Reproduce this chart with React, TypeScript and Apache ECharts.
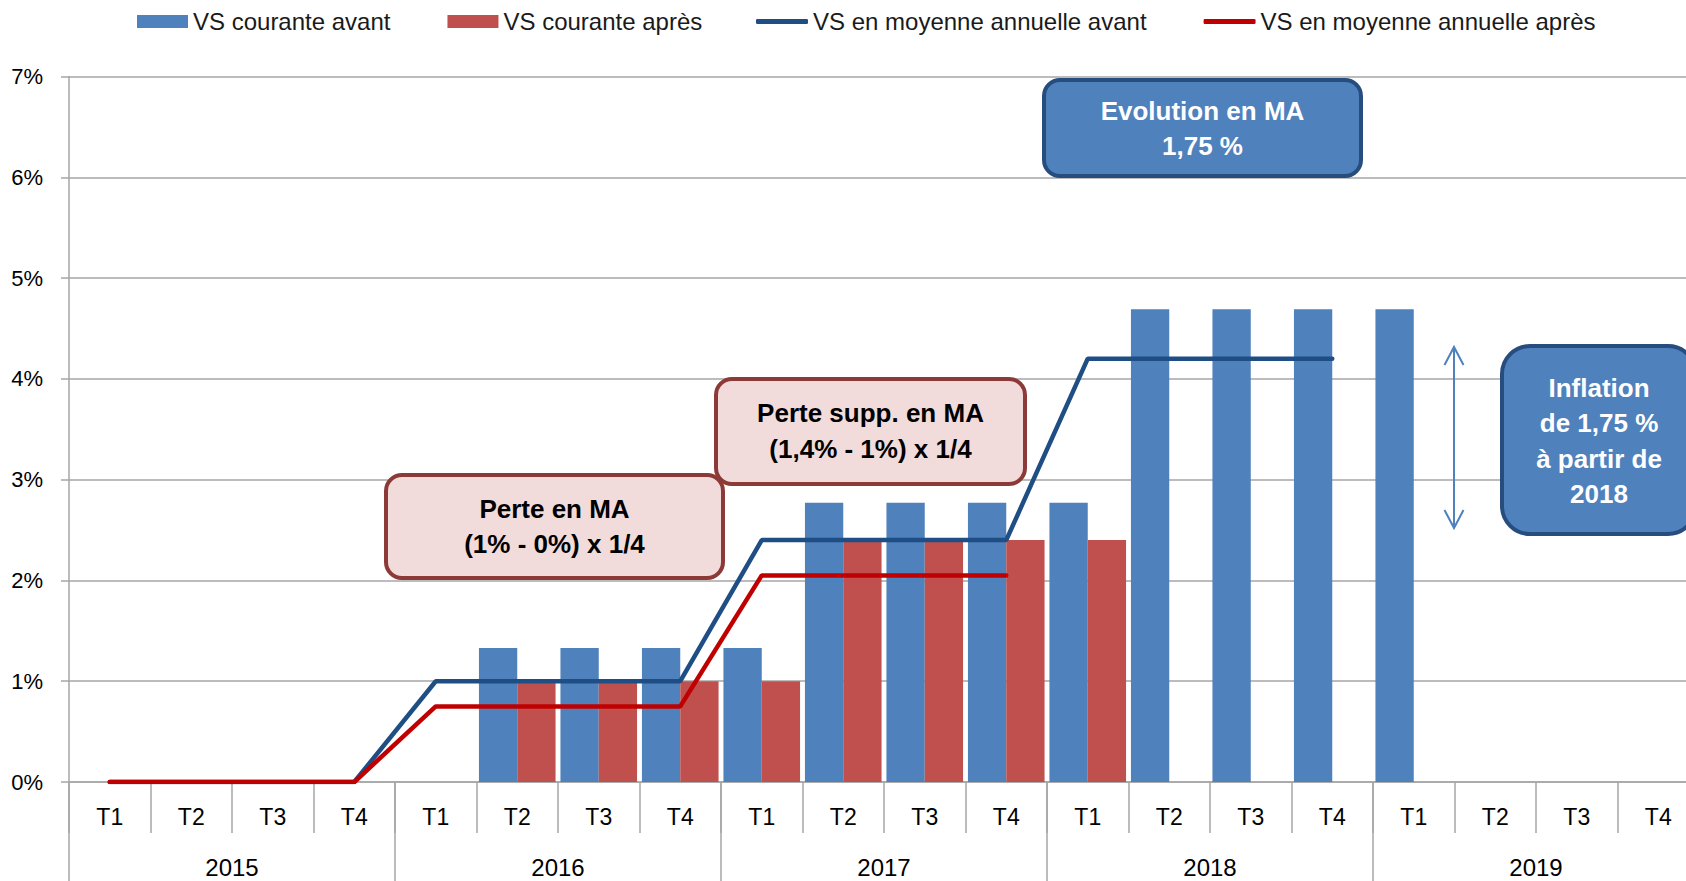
import React, { useEffect, useRef } from 'react';
import * as echarts from 'echarts';

const FONT = '"Liberation Sans", Arial, sans-serif';

const quarters = [
  'T1', 'T2', 'T3', 'T4',
  'T1', 'T2', 'T3', 'T4',
  'T1', 'T2', 'T3', 'T4',
  'T1', 'T2', 'T3', 'T4',
  'T1', 'T2', 'T3', 'T4',
];
const years = ['2015', '2016', '2017', '2018', '2019'];

const vsCouranteAvant = [
  null, null, null, null,
  null, 1.33, 1.33, 1.33,
  1.33, 2.77, 2.77, 2.77,
  2.77, 4.69, 4.69, 4.69,
  4.69, null, null, null,
];
const vsCouranteApres = [
  null, null, null, null,
  null, 1.0, 1.0, 1.0,
  1.0, 2.4, 2.4, 2.4,
  2.4, null, null, null,
  null, null, null, null,
];
const moyenneAvant = [
  0, 0, 0, 0,
  1, 1, 1, 1,
  2.4, 2.4, 2.4, 2.4,
  4.2, 4.2, 4.2, 4.2,
  null, null, null, null,
];
const moyenneApres = [
  0, 0, 0, 0,
  0.75, 0.75, 0.75, 0.75,
  2.05, 2.05, 2.05, 2.05,
  null, null, null, null,
  null, null, null, null,
];

const seriesNames = [
  'VS courante avant',
  'VS courante après',
  'VS en moyenne annuelle avant',
  'VS en moyenne annuelle après',
];

const GRID_COLOR = '#A6A6A6';
const BLUE = '#4F81BD';
const RED = '#C0504D';
const DARK_BLUE = '#1F4E85';
const LINE_RED = '#C00000';

function box(
  x: number, y: number, w: number, h: number, r: number,
  fill: string, stroke: string, text: string, color: string, cy: number
) {
  return [
    {
      type: 'rect',
      shape: { x, y, width: w, height: h, r },
      style: { fill, stroke, lineWidth: 4 },
      z: 100,
    },
    {
      type: 'text',
      x: x + w / 2,
      y: cy,
      style: {
        text,
        fill: color,
        font: `bold 26px ${FONT}`,
        align: 'center',
        verticalAlign: 'middle',
        lineHeight: 35.5,
      },
      z: 101,
    },
  ];
}

export default function App() {
  const ref = useRef<HTMLDivElement>(null);

  useEffect(() => {
    const chart = echarts.init(ref.current!, null, { renderer: 'svg' });
    const legendText = { fontSize: 24, color: '#1a1a1a', fontFamily: FONT, lineHeight: 27 };
    chart.setOption({
      animation: false,
      backgroundColor: '#ffffff',
      textStyle: { fontFamily: FONT },
      legend: [
        {
          left: 137,
          top: 8,
          padding: 0,
          itemGap: 57,
          itemWidth: 51,
          itemHeight: 13,
          textStyle: legendText,
          data: [
            { name: seriesNames[0], icon: 'rect' },
            { name: seriesNames[1], icon: 'rect' },
          ],
        },
        {
          left: 756,
          top: 8,
          padding: 0,
          itemGap: 57,
          itemWidth: 52,
          itemHeight: 5,
          textStyle: legendText,
          data: [
            { name: seriesNames[2], icon: 'roundRect' },
            { name: seriesNames[3], icon: 'roundRect' },
          ],
        },
      ],
      grid: {
        left: 69,
        top: 76.5,
        right: -13,
        bottom: 99,
        containLabel: false,
        outerBoundsMode: 'none',
      },
      xAxis: [
        {
          type: 'category',
          data: quarters,
          gridIndex: 0,
          position: 'bottom',
          axisLine: { show: true, lineStyle: { color: GRID_COLOR, width: 1.5 } },
          axisTick: { show: true, length: 51, lineStyle: { color: GRID_COLOR, width: 1.5 } },
          axisLabel: { fontSize: 23, color: '#000', margin: 23, fontFamily: FONT, interval: 0 },
          splitLine: { show: false },
        },
        {
          type: 'category',
          data: years,
          gridIndex: 0,
          position: 'bottom',
          offset: 0,
          axisLine: { show: false },
          axisTick: { show: true, length: 99, lineStyle: { color: GRID_COLOR, width: 1.5 } },
          axisLabel: { fontSize: 24, color: '#000', margin: 73, fontFamily: FONT, interval: 0 },
          splitLine: { show: false },
        },
      ],
      yAxis: {
        type: 'value',
        min: 0,
        max: 7,
        interval: 1,
        axisLine: { show: true, lineStyle: { color: GRID_COLOR, width: 1.5 } },
        axisTick: { show: true, length: 8, lineStyle: { color: GRID_COLOR, width: 1.5 } },
        axisLabel: { formatter: '{value}%', fontSize: 22, color: '#000', margin: 26, fontFamily: FONT },
        splitLine: { show: true, lineStyle: { color: GRID_COLOR, width: 1.5 } },
      },
      series: [
        {
          name: seriesNames[0],
          type: 'bar',
          data: vsCouranteAvant,
          barGap: '0%',
          barCategoryGap: '6%',
          itemStyle: { color: BLUE },
        },
        {
          name: seriesNames[1],
          type: 'bar',
          data: vsCouranteApres,
          barGap: '0%',
          barCategoryGap: '6%',
          itemStyle: { color: RED },
        },
        {
          name: seriesNames[2],
          type: 'line',
          data: moyenneAvant,
          symbol: 'none',
          showSymbol: false,
          lineStyle: { color: DARK_BLUE, width: 4.5, cap: 'round' },
          itemStyle: { color: DARK_BLUE },
          z: 3,
        },
        {
          name: seriesNames[3],
          type: 'line',
          data: moyenneApres,
          symbol: 'none',
          showSymbol: false,
          lineStyle: { color: LINE_RED, width: 4.5, cap: 'round' },
          itemStyle: { color: LINE_RED },
          z: 4,
        },
      ],
      graphic: [
        ...box(386, 475, 337, 103, 16, '#F2DCDB', '#8C3A38', 'Perte en MA\n(1% - 0%) x 1/4', '#000', 526.5),
        ...box(716, 379, 309, 105, 16, '#F2DCDB', '#8C3A38', 'Perte supp. en MA\n(1,4% - 1%) x 1/4', '#000', 431),
        ...box(1044, 80, 317, 96, 16, BLUE, '#264D7E', 'Evolution en MA\n1,75 %', '#fff', 128.5),
        ...box(1502, 346, 194, 188, 28, BLUE, '#264D7E', 'Inflation\nde 1,75 %\nà partir de\n2018', '#fff', 441),
        {
          type: 'line',
          shape: { x1: 1454, y1: 348, x2: 1454, y2: 527 },
          style: { stroke: BLUE, lineWidth: 2 },
          z: 100,
        },
        {
          type: 'polyline',
          shape: { points: [[1444.5, 365], [1454, 347], [1463.5, 365]] },
          style: { stroke: BLUE, lineWidth: 2, fill: null },
          z: 100,
        },
        {
          type: 'polyline',
          shape: { points: [[1444.5, 510], [1454, 528], [1463.5, 510]] },
          style: { stroke: BLUE, lineWidth: 2, fill: null },
          z: 100,
        },
      ],
    });
    return () => chart.dispose();
  }, []);

  return (
    <div
      ref={ref}
      style={{ position: 'absolute', left: 0, top: 0, width: 1686, height: 881 }}
    />
  );
}
